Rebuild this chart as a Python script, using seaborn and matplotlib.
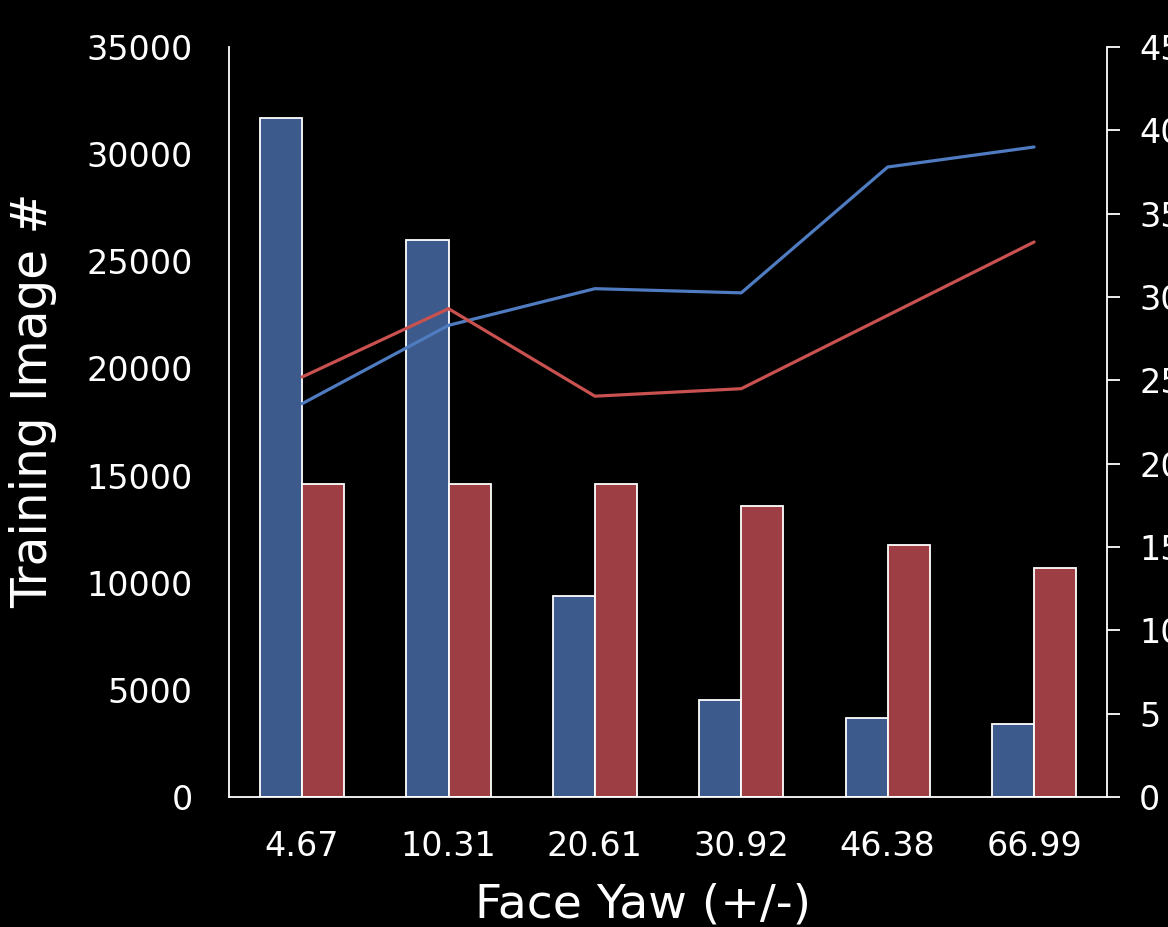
"""
Face yaw distribution - training image counts (bars) vs. accuracy (lines)
"""

import numpy as np
import pandas as pd
import matplotlib
matplotlib.use('Agg')
import matplotlib.pyplot as plt
import seaborn as sns

# ============================================================================
# DATA
# ============================================================================
yaw_labels = ['4.67', '10.31', '20.61', '30.92', '46.38', '66.99']
images_blue = [31700, 26000, 9400, 4550, 3700, 3400]
images_red = [14600, 14600, 14600, 13600, 11750, 10700]
line_blue = [23.6, 28.3, 30.5, 30.25, 37.8, 39.0]
line_red = [25.2, 29.3, 24.05, 24.5, 28.9, 33.3]

BAR_BLUE = '#3C5A8B'
BAR_RED = '#9D3D44'
LINE_BLUE = '#4F7BC0'
LINE_RED = '#C9514F'

# ============================================================================
# STYLE
# ============================================================================
sns.set_style("dark")
plt.rcParams['font.family'] = ['DejaVu Sans']
plt.rcParams['text.color'] = 'white'

bars = pd.DataFrame({
    'yaw': yaw_labels * 2,
    'count': images_blue + images_red,
    'set': ['blue'] * len(yaw_labels) + ['red'] * len(yaw_labels),
})

fig = plt.figure(figsize=(11.68, 9.27), dpi=100, facecolor='black')
ax = fig.add_axes([0.196, 0.1402, 0.752, 0.8091])
ax.set_facecolor('black')

sns.barplot(data=bars, x='yaw', y='count', hue='set', order=yaw_labels,
            palette={'blue': BAR_BLUE, 'red': BAR_RED}, width=0.575,
            saturation=1, edgecolor='white', linewidth=1.3, legend=False,
            ax=ax, zorder=2)

ax.set_xlim(-0.5, len(yaw_labels) - 0.5)
ax.set_ylim(0, 35000)
ax.set_yticks(np.arange(0, 35001, 5000))
ax.grid(False)

ax2 = ax.twinx()
pos = np.arange(len(yaw_labels))
sns.lineplot(x=pos, y=line_blue, color=LINE_BLUE, linewidth=2.3, ax=ax2)
sns.lineplot(x=pos, y=line_red, color=LINE_RED, linewidth=2.3, ax=ax2)
ax2.set_ylim(0, 45)
ax2.set_yticks(np.arange(0, 46, 5))
ax2.grid(False)
ax.set_xlim(-0.5, len(yaw_labels) - 0.5)

# Spines
for a in (ax, ax2):
    a.spines['top'].set_visible(False)
    for side in ['left', 'right', 'bottom']:
        a.spines[side].set_color('white')
        a.spines[side].set_linewidth(1.3)
ax.spines['right'].set_visible(False)
ax2.spines['left'].set_visible(False)
ax2.spines['bottom'].set_visible(False)

ax.tick_params(axis='y', length=0, pad=26, labelsize=24, labelcolor='white')
ax.tick_params(axis='x', length=0, pad=24, labelsize=24, labelcolor='white')
ax2.tick_params(axis='y', length=9, width=1.3, color='white', pad=14,
                labelsize=24, labelcolor='white', direction='out')

ax.set_xlabel('Face Yaw (+/-)', fontsize=34, color='white')
ax.set_ylabel('Training Image #', fontsize=35, color='white')
ax.xaxis.set_label_coords(0.4715, -0.114)
ax.yaxis.set_label_coords(-0.196, 0.529)
ax2.set_ylabel('')

plt.savefig('out.png', dpi=100, facecolor='black')
